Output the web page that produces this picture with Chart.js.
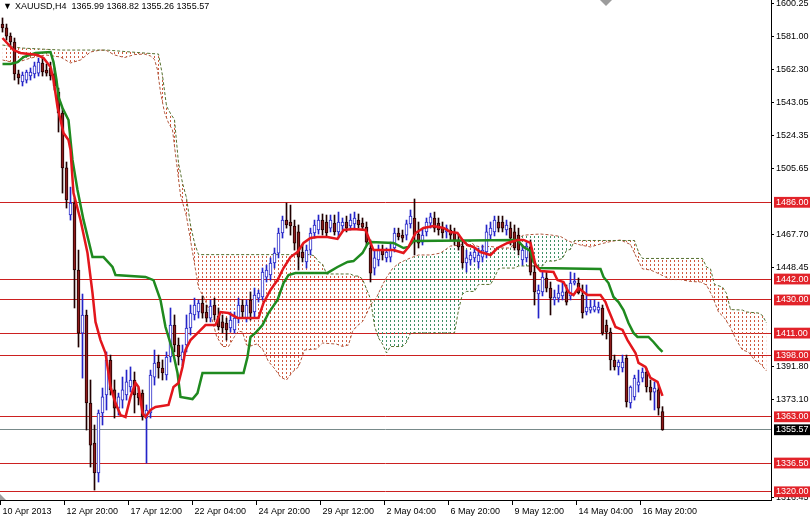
<!DOCTYPE html>
<html>
<head>
<meta charset="utf-8">
<title>XAUUSD H4 Ichimoku</title>
<script src="https://cdn.jsdelivr.net/npm/chart.js@4.4.1/dist/chart.umd.min.js"></script>
<style>
  html, body { margin: 0; padding: 0; background: #fff; }
  #wrap { position: relative; width: 810px; height: 518px; }
</style>
</head>
<body>
<div id="wrap"><canvas id="chart"></canvas></div>
<script>
// XAUUSD H4 candles + Ichimoku.

const symbol = 'XAUUSD,H4';

const opens = [1588.2,1586.0,1581.3,1577.9,1559.6,1555.0,1556.1,1558.4,1559.6,1560.1,
  1565.9,1561.8,1563.0,1559.6,1549.2,1537.2,1505.7,1478.7,1485.6,1447.2,
  1411.0,1421.4,1370.9,1348.0,1330.8,1365.2,1375.5,1395.6,1378.4,1368.0,
  1372.6,1375.5,1380.1,1384.1,1376.6,1376.6,1362.3,1365.2,1385.8,1394.4,
  1391.0,1387.0,1397.3,1415.6,1404.2,1395.6,1404.2,1413.9,1421.4,1423.1,
  1428.2,1423.1,1419.6,1427.1,1420.8,1417.4,1416.8,1413.9,1412.8,1419.6,
  1427.1,1419.6,1430.0,1423.1,1431.1,1431.7,1443.1,1444.3,1451.2,1456.9,
  1468.4,1475.8,1474.7,1472.4,1469.0,1457.5,1451.8,1458.6,1468.4,1470.1,
  1475.8,1474.7,1471.2,1474.1,1469.0,1472.4,1474.7,1472.4,1473.6,1475.8,
  1474.1,1471.8,1459.8,1448.3,1452.9,1458.6,1454.1,1454.6,1459.8,1468.4,
  1467.2,1467.2,1473.6,1477.0,1467.8,1463.2,1469.0,1474.1,1477.0,1474.1,
  1471.2,1469.0,1470.1,1468.4,1464.4,1460.9,1451.2,1452.9,1454.1,1451.8,
  1454.6,1457.5,1467.2,1469.0,1474.7,1474.7,1470.1,1471.2,1469.0,1467.2,
  1452.9,1454.1,1460.4,1446.0,1433.4,1434.6,1442.6,1436.8,1430.0,1431.1,
  1432.3,1434.6,1432.3,1439.7,1439.7,1432.8,1423.1,1424.2,1424.2,1424.2,
  1425.4,1415.6,1411.6,1395.6,1391.6,1391.0,1396.7,1370.9,1374.4,1381.2,
  1385.2,1388.7,1380.1,1377.2,1378.4,1365.99];

const highs = [1591.7,1588.2,1583.1,1580.2,1561.8,1560.7,1561.8,1563.0,1566.4,1568.7,
  1568.7,1565.3,1566.4,1563.0,1551.5,1540.1,1509.1,1494.7,1488.4,1458.6,
  1433.4,1424.2,1384.1,1358.3,1366.9,1379.5,1400.2,1398.4,1384.1,1376.6,
  1385.8,1389.8,1391.6,1388.7,1379.5,1378.4,1369.8,1389.8,1401.3,1398.4,
  1395.6,1400.2,1425.4,1421.4,1408.2,1404.2,1421.4,1427.1,1431.1,1430.0,
  1432.3,1427.1,1430.0,1431.1,1425.4,1421.4,1419.6,1423.1,1423.1,1431.1,
  1430.0,1430.0,1434.6,1436.8,1435.7,1448.3,1450.0,1454.1,1459.8,1471.2,
  1478.1,1485.6,1484.4,1475.8,1473.0,1461.5,1461.5,1471.2,1475.8,1478.7,
  1479.3,1478.7,1478.7,1478.7,1480.4,1477.0,1478.1,1479.3,1480.4,1479.3,
  1477.0,1474.7,1464.4,1458.6,1461.5,1461.5,1459.8,1463.2,1471.2,1471.2,
  1470.1,1475.8,1481.6,1487.9,1474.7,1471.2,1477.0,1479.8,1480.4,1477.0,
  1474.7,1473.0,1473.0,1471.2,1467.2,1464.4,1458.6,1457.5,1459.8,1459.8,
  1461.5,1473.0,1474.7,1478.1,1478.1,1478.1,1475.8,1474.7,1473.0,1471.2,
  1461.5,1462.9,1464.4,1450.0,1438.6,1446.0,1446.0,1440.3,1435.7,1438.6,
  1439.7,1438.6,1446.0,1445.4,1442.6,1438.6,1438.6,1430.0,1430.0,1428.8,
  1427.1,1418.5,1413.9,1398.4,1395.6,1398.4,1398.4,1380.7,1386.9,1389.8,
  1391.0,1391.0,1384.1,1383.0,1381.2,1368.82];

const lows = [1583.6,1579.0,1575.6,1556.1,1553.8,1552.7,1554.4,1556.1,1557.3,1558.4,
  1558.4,1558.4,1556.1,1550.4,1526.3,1491.3,1482.7,1475.8,1425.4,1403.0,
  1385.2,1355.4,1334.2,1321.0,1325.6,1358.3,1366.9,1375.5,1362.3,1364.0,
  1368.0,1372.6,1377.2,1365.2,1369.8,1361.1,1336.5,1362.3,1381.2,1385.2,
  1384.1,1384.1,1394.4,1400.2,1392.7,1392.1,1400.2,1409.9,1418.5,1419.6,
  1419.6,1417.4,1417.4,1418.5,1412.8,1411.0,1407.0,1411.6,1411.0,1416.8,
  1419.6,1417.4,1418.5,1419.6,1428.8,1430.0,1440.3,1441.4,1448.3,1454.1,
  1465.5,1471.2,1467.2,1458.6,1447.2,1451.8,1448.3,1455.8,1465.5,1467.8,
  1467.2,1466.1,1469.0,1467.2,1465.5,1470.1,1469.0,1470.1,1471.2,1471.2,
  1470.1,1461.5,1440.3,1444.3,1449.5,1452.9,1451.8,1451.8,1457.5,1464.4,
  1463.2,1464.4,1471.2,1455.8,1459.8,1461.5,1466.7,1471.2,1469.0,1467.2,
  1465.5,1465.5,1464.4,1461.5,1458.6,1448.3,1446.0,1450.0,1451.8,1448.3,
  1451.8,1454.1,1464.4,1466.7,1469.0,1469.0,1467.2,1461.5,1458.6,1455.8,
  1450.0,1451.8,1444.3,1427.1,1419.6,1432.3,1434.6,1421.4,1427.1,1428.8,
  1430.0,1427.1,1430.0,1438.6,1433.4,1419.6,1421.4,1422.5,1423.1,1422.5,
  1409.9,1407.6,1389.8,1389.8,1387.0,1388.7,1368.6,1368.0,1372.6,1377.2,
  1383.0,1377.2,1372.6,1366.9,1364.0,1355.26];

const closes = [1586.0,1581.3,1577.9,1559.6,1557.3,1559.0,1560.7,1560.7,1564.2,1566.4,
  1560.7,1560.1,1558.4,1552.7,1537.2,1505.7,1487.3,1485.6,1447.2,1411.0,
  1421.4,1370.9,1346.8,1330.8,1365.2,1374.4,1395.6,1378.4,1368.0,1374.4,
  1378.4,1383.0,1384.1,1375.5,1373.8,1362.9,1366.9,1387.0,1393.8,1391.0,
  1388.1,1397.3,1415.6,1404.2,1397.3,1400.2,1413.9,1422.5,1427.1,1428.2,
  1422.5,1419.6,1426.5,1421.4,1414.5,1413.9,1412.8,1418.5,1419.6,1427.1,
  1423.1,1427.1,1422.5,1432.8,1434.0,1446.0,1447.2,1451.2,1456.9,1468.4,
  1475.8,1473.0,1472.4,1462.6,1454.6,1454.1,1458.6,1468.4,1473.0,1475.8,
  1470.1,1468.4,1475.8,1469.0,1474.7,1474.7,1471.2,1475.8,1477.0,1473.0,
  1471.8,1463.2,1445.4,1454.1,1459.2,1455.8,1457.5,1458.6,1468.4,1466.1,
  1465.5,1473.6,1478.1,1467.2,1462.6,1467.2,1474.7,1477.6,1471.2,1470.1,
  1468.4,1471.2,1467.2,1464.4,1460.4,1451.2,1454.1,1455.8,1457.5,1455.8,
  1458.6,1469.0,1471.2,1475.8,1471.2,1471.2,1473.0,1465.5,1459.8,1458.6,
  1458.6,1460.9,1446.0,1434.6,1435.7,1443.1,1436.8,1431.1,1431.7,1434.0,
  1434.6,1428.8,1439.7,1440.9,1434.0,1422.5,1425.9,1425.9,1426.5,1425.9,
  1411.0,1411.6,1395.6,1391.6,1394.4,1394.4,1371.5,1380.1,1385.2,1383.0,
  1388.7,1380.1,1377.2,1379.5,1368.0,1355.57];

// Ichimoku lines as [bar, price] knots
const tenkan = [[0,1580.2],[2.75,1573.3],[4.5,1571.6],[8.75,1570.5],[10.25,1568.7],[12,1563.6],[12.75,1556.1],
  [13.75,1540.6],[14.5,1533.2],[15.25,1525.7],[16.5,1521.7],[17,1516.0],[17.75,1491.3],[19.5,1475.9],
  [21.25,1456.9],[22.5,1434.0],[23.25,1417.4],[24.5,1407.0],[25.75,1399.6],[27,1380.1],[28.25,1370.9],
  [29.5,1364.0],[30.75,1362.9],[32,1374.4],[33.25,1382.4],[34,1380.1],[35,1365.2],[35.75,1362.9],
  [37,1366.9],[38.25,1368.6],[41.5,1369.8],[42.75,1380.1],[44,1382.4],[45,1391.6],[45.75,1401.3],
  [47,1407.0],[49,1411.6],[50.75,1415.6],[53.25,1415.6],[54.5,1423.1],[56.5,1422.5],[58.75,1419.7],
  [64,1419.7],[65.25,1428.3],[67,1435.7],[68.75,1441.4],[70.25,1448.3],[72,1454.6],[73.75,1457.5],
  [75.25,1462.7],[77,1465.5],[78.75,1466.1],[81.25,1466.1],[83.75,1465.0],[85.25,1470.1],[87.75,1470.7],
  [90.75,1470.1],[91.75,1464.4],[92.75,1458.6],[97.75,1458.6],[100.25,1456.9],[101.5,1460.4],
  [103.25,1468.4],[105.25,1471.3],[107.75,1472.4],[110.25,1471.3],[112,1469.0],[113.75,1468.4],
  [115,1464.4],[116.25,1461.5],[117.75,1460.4],[119.5,1457.5],[122,1455.8],[123.75,1459.8],
  [126.25,1462.7],[128.75,1464.4],[130.25,1464.4],[132,1462.7],[133.25,1450.0],[134.5,1446.6],
  [137.75,1446.0],[138.75,1441.4],[140.25,1440.3],[141.5,1434.6],[142.75,1432.8],[144,1436.9],
  [145.25,1434.6],[146.25,1432.8],[149.5,1432.8],[150.75,1428.8],[151.5,1424.2],[153.25,1414.5],
  [155,1412.8],[156.25,1407.0],[158.25,1399.6],[159,1393.9],[160.75,1391.6],[162,1385.3],
  [163.75,1383.0],[165,1375.0]];

const kijun = [[0,1565.3],[2,1565.3],[3.75,1566.4],[5.25,1569.3],[8.25,1571.6],[12,1572.2],[12.75,1566.4],
  [13.5,1556.1],[14,1546.4],[15,1540.1],[16.5,1533.2],[17.5,1510.3],[18.75,1493.1],[20.25,1475.9],
  [22.5,1454.6],[25.25,1454.6],[27.5,1448.9],[28.25,1444.3],[35.75,1443.2],[37.75,1441.4],[39.5,1430.0],
  [40.75,1414.5],[42.5,1401.3],[43.75,1388.1],[44.5,1374.4],[47.5,1373.2],[48.75,1376.6],[50,1388.1],
  [60.25,1388.1],[61.25,1397.3],[62,1408.8],[63.25,1411.1],[65,1415.6],[66.5,1422.5],[68.75,1430.0],
  [70.25,1439.7],[71.5,1444.3],[73.25,1445.5],[81.25,1445.5],[83.75,1448.9],[86.25,1451.8],[87.75,1452.3],
  [90,1456.9],[91.25,1462.1],[92,1463.2],[97.75,1462.7],[100.25,1459.8],[101.5,1460.4],[102.75,1463.8],
  [128.75,1464.4],[130.25,1460.4],[132,1458.1],[132.75,1451.8],[134,1448.3],[149.5,1447.8],
  [150.25,1443.2],[151.5,1439.7],[152.75,1431.7],[154,1428.8],[155.25,1424.2],[156.5,1416.8],
  [157.75,1411.1],[158.75,1408.8],[161.5,1408.8],[162.75,1405.9],[164,1402.5],[165,1400.2]];

const spanA = [[0,1567.6],[3.25,1565.9],[7,1568.7],[10.75,1570.5],[14.5,1569.3],[17,1565.9],[19.5,1567.6],
  [22,1572.2],[24.5,1573.3],[26,1573.0],[28,1570.5],[30.5,1569.0],[33,1570.7],[35.5,1571.0],[37,1569.9],
  [38,1567.9],[38.75,1561.9],[39.5,1549.2],[40.5,1537.5],[41.5,1531.5],[42.5,1527.5],[43.5,1508.8],
  [44.5,1490.2],[46,1477.9],[47.5,1457.5],[49,1437.1],[50.5,1430.8],[52,1422.2],[53.5,1409.3],
  [55,1403.3],[56.5,1403.3],[58,1409.0],[59,1412.2],[60,1411.6],[61,1404.2],[62,1403.6],[63.5,1404.7],
  [65,1401.9],[66.5,1394.7],[68,1390.7],[69.5,1385.8],[71,1384.1],[72.5,1388.7],[74,1391.6],
  [75.5,1401.3],[78.5,1401.9],[80,1405.3],[83.5,1404.7],[85,1403.3],[86.5,1404.2],[87.5,1411.9],
  [88.5,1414.8],[90,1417.6],[91,1422.0],[92,1427.1],[93.5,1431.4],[95,1438.6],[96,1442.9],
  [97.5,1448.0],[99,1450.9],[100.5,1452.6],[102,1454.1],[104,1455.8],[107,1455.8],[109.5,1456.9],
  [112,1460.9],[114.5,1461.5],[117,1463.8],[118,1461.2],[119.5,1460.4],[122,1460.7],[124.5,1459.8],
  [127,1459.8],[128,1462.7],[130,1467.0],[132,1467.5],[134.5,1467.8],[137,1467.3],[139.5,1466.4],
  [141,1464.4],[142.5,1462.9],[144.5,1461.5],[147,1460.4],[149.5,1462.1],[152,1463.5],[154.5,1464.4],
  [157,1461.8],[158.5,1454.4],[160,1447.8],[162,1447.2],[164.5,1444.6],[167,1441.7],[169.5,1441.7],
  [172,1440.6],[174.5,1440.3],[176,1438.6],[177.5,1432.0],[179,1423.1],[180.5,1419.7],[182,1414.2],
  [183.5,1406.8],[185,1401.3],[186.5,1400.2],[188,1395.6],[189.5,1393.3],[191,1389.3]];

const spanB = [[0,1576.2],[4.5,1574.5],[14.5,1573.3],[26,1573.3],[32,1572.2],[39,1571.0],[40,1558.7],
  [41,1541.2],[42,1536.9],[43,1533.4],[44,1508.5],[45,1497.1],[46,1488.5],[47,1473.0],[48,1462.7],
  [49,1456.0],[77,1456.0],[78,1455.2],[79,1452.0],[80,1450.6],[81,1444.9],[87,1444.9],[88,1443.7],
  [89,1443.7],[90,1442.0],[91,1436.3],[92,1430.6],[93,1415.1],[94,1408.2],[95,1404.7],[96,1399.6],
  [97,1403.3],[100,1403.3],[101,1405.6],[102,1411.1],[113,1411.1],[114,1424.2],[115,1433.4],
  [116,1434.9],[118,1434.9],[119,1438.9],[122,1438.9],[123,1442.9],[124,1447.8],[125,1448.3],
  [128,1448.3],[129,1449.5],[135,1449.5],[136,1452.3],[138,1452.3],[139,1453.2],[140,1453.8],
  [141,1458.4],[142,1459.0],[143,1464.1],[158,1464.1],[159,1457.5],[160,1453.8],[175,1453.8],
  [176,1448.9],[177,1447.8],[178,1438.9],[180,1437.4],[181,1433.7],[182,1424.5],[185,1424.2],
  [186,1423.1],[189,1422.5],[190,1421.1],[191,1416.8]];

// axes
const barMin = -0.625;     // left edge of the visible bar range
const barMax = 192.125;    // right edge (26 projected cloud bars after the last candle)
const xTickBars = [-0.5, 15.5, 31.5, 47.5, 63.5, 79.5, 95.5, 111.5, 127.5, 143.5, 159.5];
const xLabels = ['10 Apr 2013', '12 Apr 20:00', '17 Apr 12:00', '22 Apr 04:00', '24 Apr 20:00',
  '29 Apr 12:00', '2 May 04:00', '6 May 20:00', '9 May 12:00', '14 May 04:00', '16 May 20:00'];
const priceTicks = [1600.25, 1581.00, 1562.30, 1543.05, 1524.35, 1505.65, 1467.70, 1448.45, 1391.80, 1373.10, 1316.45];
const levels = [1486, 1442, 1430, 1411, 1398, 1363, 1336.5, 1320];
const lastPrice = 1355.57;
const priceMin = 1315.3;
const priceMax = 1602.0;

const FONT_FAMILY = "'Liberation Sans', Arial, sans-serif";
const FONT = { family: FONT_FAMILY, size: 9 };
const COLORS = {
    bullBody: '#ffffff',
    bullLine: '#2424c8',
    bearBody: '#8e1c1c',
    bearLine: '#200000',
    tenkan: '#e3161c',
    kijun: '#1f8a1f',
    spanA: '#b0563a',
    spanB: '#55702e',
    hatchUp: '#3f9066',
    hatchDown: '#cf5a40',
    level: '#cc2020',
    last: '#788a8a',
    tag: '#e2232a',
};

const canvas = document.getElementById('chart');
const ctx2d = canvas.getContext('2d');

function hatch(color) {
    const tile = document.createElement('canvas');
    tile.width = 4;
    tile.height = 4;
    const t = tile.getContext('2d');
    t.fillStyle = color;
    t.fillRect(2, 0, 1, 2);
    return ctx2d.createPattern(tile, 'repeat');
}

const isBull = i => closes[i] >= opens[i];
const pairs = arr => arr.map(([x, y]) => ({ x, y }));
const isLevel = v => levels.includes(v);
const isTag = v => isLevel(v) || v === lastPrice;
const yTicks = priceTicks.concat(levels, [lastPrice]);

const header = {
    id: 'header',
    afterDraw(chart) {
        const g = chart.ctx;
        const n = closes.length - 1;
        const txt = `${symbol}  ${opens[n].toFixed(2)} ${highs[n].toFixed(2)} ${lows[n].toFixed(2)} ${closes[n].toFixed(2)}`;
        g.save();
        g.font = `9px ${FONT_FAMILY}`;
        g.fillStyle = '#000';
        g.textBaseline = 'middle';
        g.fillText('\u25BC', 3, 7);
        g.fillText(txt, 15, 7);
        // chart shift / scroll markers
        g.fillStyle = '#9c9c9c';
        g.beginPath(); g.moveTo(600, 0); g.lineTo(612, 0); g.lineTo(606, 6); g.closePath(); g.fill();
        g.beginPath(); g.moveTo(0, 494); g.lineTo(6, 500); g.lineTo(0, 500); g.closePath(); g.fill();
        g.restore();
    },
};

new Chart(canvas, {
    type: 'line',
    data: {
        datasets: [
            {
                label: 'Senkou Span A',
                data: pairs(spanA),
                borderColor: COLORS.spanA,
                borderWidth: 1,
                borderDash: [3, 2],
                pointRadius: 0,
                tension: 0,
                fill: { target: 1, above: hatch(COLORS.hatchUp), below: hatch(COLORS.hatchDown) },
                order: 5,
            },
            {
                label: 'Senkou Span B',
                data: pairs(spanB),
                borderColor: COLORS.spanB,
                borderWidth: 1,
                borderDash: [3, 2],
                pointRadius: 0,
                tension: 0,
                fill: false,
                order: 4,
            },
            {
                type: 'bar',
                label: 'wick',
                data: highs.map((h, i) => ({ x: i, y: [lows[i], h] })),
                backgroundColor: c => isBull(c.dataIndex) ? COLORS.bullLine : COLORS.bearLine,
                barThickness: 1,
                grouped: false,
                order: 3,
            },
            {
                type: 'bar',
                label: 'body',
                data: opens.map((o, i) => ({ x: i, y: [o, closes[i]] })),
                backgroundColor: c => isBull(c.dataIndex) ? COLORS.bullBody : COLORS.bearBody,
                borderColor: c => isBull(c.dataIndex) ? COLORS.bullLine : COLORS.bearLine,
                borderWidth: 1,
                borderSkipped: false,
                barThickness: 3,
                minBarLength: 1,
                grouped: false,
                order: 2,
            },
            {
                label: 'Kijun-sen',
                data: pairs(kijun),
                borderColor: COLORS.kijun,
                borderWidth: 2.5,
                pointRadius: 0,
                tension: 0,
                fill: false,
                order: 1,
            },
            {
                label: 'Tenkan-sen',
                data: pairs(tenkan),
                borderColor: COLORS.tenkan,
                borderWidth: 2.5,
                pointRadius: 0,
                tension: 0,
                fill: false,
                order: 0,
            },
        ],
    },
    options: {
        responsive: true,
        maintainAspectRatio: false,
        animation: false,
        events: [],
        layout: { padding: 0 },
        plugins: {
            legend: { display: false },
            tooltip: { enabled: false },
        },
        scales: {
            x: {
                type: 'linear',
                min: barMin,
                max: barMax,
                offset: false,
                afterBuildTicks: s => { s.ticks = xTickBars.map(v => ({ value: v })); },
                afterFit: s => { s.height = 18; s.paddingLeft = 0; s.paddingRight = 0; },
                ticks: {
                    autoSkip: false,
                    maxRotation: 0,
                    align: 'start',
                    labelOffset: 2,
                    padding: 1,
                    color: '#000',
                    font: FONT,
                    callback: (v, i) => xLabels[i],
                },
                grid: { drawOnChartArea: false, offset: false, tickLength: 5, tickColor: '#000' },
                border: { display: true, color: '#000', width: 1 },
            },
            y: {
                type: 'linear',
                position: 'right',
                min: priceMin,
                max: priceMax,
                afterBuildTicks: s => { s.ticks = yTicks.map(v => ({ value: v })); },
                afterFit: s => { s.width = 39; s.paddingTop = 0; s.paddingBottom = 0; },
                ticks: {
                    autoSkip: false,
                    padding: 2,
                    font: FONT,
                    callback: v => v.toFixed(2),
                    color: c => (c.tick && isTag(c.tick.value)) ? '#fff' : '#000',
                    showLabelBackdrop: true,
                    backdropColor: c => {
                        if (!c.tick) return 'rgba(0,0,0,0)';
                        if (c.tick.value === lastPrice) return '#000';
                        return isLevel(c.tick.value) ? COLORS.tag : 'rgba(0,0,0,0)';
                    },
                    backdropPadding: { top: 0, bottom: 0, left: 2, right: 3 },
                },
                grid: {
                    drawOnChartArea: true,
                    tickLength: 3,
                    lineWidth: 1,
                    color: c => {
                        if (!c.tick) return 'rgba(0,0,0,0)';
                        if (c.tick.value === lastPrice) return COLORS.last;
                        return isLevel(c.tick.value) ? COLORS.level : 'rgba(0,0,0,0)';
                    },
                    tickColor: c => (c.tick && isTag(c.tick.value)) ? 'rgba(0,0,0,0)' : '#000',
                },
                border: { display: true, color: '#000', width: 1 },
            },
        },
    },
    plugins: [header],
});
</script>
</body>
</html>
